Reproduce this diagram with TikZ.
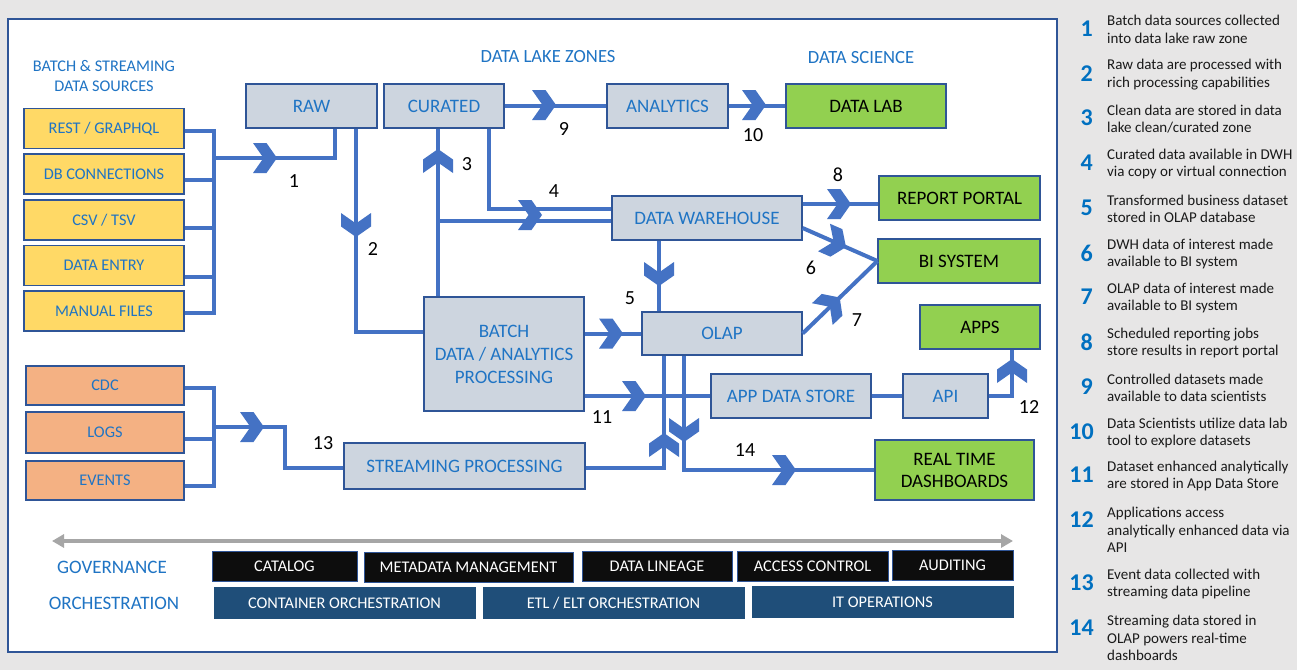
\documentclass[tikz,border=0pt]{standalone}
\usepackage{fontspec}
\setmainfont{Carlito}
\usetikzlibrary{arrows.meta}

\definecolor{pagegray}{HTML}{E7E6E6}
\definecolor{boxline}{HTML}{2F5597}
\definecolor{zonefill}{HTML}{CDD5DF}
\definecolor{flowblue}{HTML}{4472C4}
\definecolor{labelblue}{HTML}{1F74C4}
\definecolor{legendblue}{HTML}{0070C0}
\definecolor{srcyellow}{HTML}{FFD966}
\definecolor{srcorange}{HTML}{F4B183}
\definecolor{targetgreen}{HTML}{92D050}
\definecolor{govblack}{HTML}{0D0D0D}
\definecolor{orchblue}{HTML}{1F4E79}
\definecolor{spangray}{HTML}{A6A6A6}
\definecolor{legtextcol}{HTML}{1A1A1A}

\newcommand{\setfs}[2]{\fontsize{#1pt}{#2pt}\selectfont}

\tikzset{
  basebox/.style={draw=boxline, line width=1.2pt, inner sep=0pt, align=center},
  srcbox/.style={basebox, fill=srcyellow, text=labelblue, font=\setfs{16.3}{19},
                 minimum width=160pt, minimum height=40pt},
  evbox/.style={basebox, fill=srcorange, text=labelblue, font=\setfs{16.3}{19},
                minimum width=158pt, minimum height=39pt},
  zone/.style={basebox, fill=zonefill, text=labelblue, font=\setfs{19}{23}},
  target/.style={basebox, fill=targetgreen, text=black, font=\setfs{19}{22}},
  govbox/.style={draw=boxline, line width=1pt, fill=govblack, text=white, inner sep=0pt,
                 font=\setfs{16.3}{19}, minimum height=30pt},
  orchbox/.style={draw=orchblue, fill=orchblue, text=white, inner sep=0pt,
                  font=\setfs{16.3}{19}, minimum height=31pt, minimum width=261pt},
  hdr/.style={text=labelblue, inner sep=0pt, align=center},
  flow/.style={draw=flowblue, line width=4pt},
  steplabel/.style={text=black, inner sep=0pt, font=\setfs{20}{24}},
  legnum/.style={text=legendblue, inner sep=0pt, anchor=east, font=\bfseries\setfs{24}{28}},
  legtext/.style={text=legtextcol, inner sep=0pt, anchor=west, align=left, font=\setfs{15}{17.5}},
  chev/.pic={\fill[flowblue] (-12,15) -- (1.5,15) -- (12,0) -- (1.5,-15) -- (-12,-15) -- (-1.5,0) -- cycle;}
}

\begin{document}
\begin{tikzpicture}[x=1pt,y=-1pt]
\useasboundingbox (0,0) rectangle (1297,670);
\fill[pagegray] (0,0) rectangle (1297,670);
\draw[boxline, line width=1.2pt, fill=white] (8,19) rectangle (1057,652);

% headings
\node[hdr, font=\setfs{16.3}{20}] (srchdr) at (104,76) {BATCH \& STREAMING\\DATA SOURCES};
\node[hdr, font=\setfs{18.6}{21}] (lakehdr) at (548,57) {DATA LAKE ZONES};
\node[hdr, font=\setfs{18.6}{21}] (scihdr) at (861,58) {DATA SCIENCE};

% batch sources
\node[srcbox] (rest) at (104,128.5) {REST / GRAPHQL};
\node[srcbox] (dbconn) at (104,174) {DB CONNECTIONS};
\node[srcbox] (csv) at (104,220) {CSV / TSV};
\node[srcbox] (entry) at (104,265.5) {DATA ENTRY};
\node[srcbox] (manual) at (104,311) {MANUAL FILES};

% streaming sources
\node[evbox] (cdc) at (105,385.5) {CDC};
\node[evbox, minimum height=41pt] (logs) at (105,432.5) {LOGS};
\node[evbox] (events) at (105,480.5) {EVENTS};

% data lake zones and processing
\node[zone, minimum width=131pt, minimum height=44pt] (raw) at (311.5,106) {RAW};
\node[zone, minimum width=120pt, minimum height=44pt] (curated) at (444,106) {CURATED};
\node[zone, minimum width=121pt, minimum height=44pt] (analytics) at (667.5,106) {ANALYTICS};
\node[zone, minimum width=190pt, minimum height=44pt] (dwh) at (707,218) {DATA WAREHOUSE};
\node[zone, minimum width=160pt, minimum height=43pt] (olap) at (722,333.5) {OLAP};
\node[zone, minimum width=160pt, minimum height=114pt] (batch) at (504,354) {BATCH\\DATA / ANALYTICS\\PROCESSING};
\node[zone, minimum width=160pt, minimum height=44pt] (appstore) at (791,396) {APP DATA STORE};
\node[zone, minimum width=85pt, minimum height=44pt] (api) at (945.5,396) {API};
\node[zone, minimum width=241pt, minimum height=46pt] (stream) at (464.5,466) {STREAMING PROCESSING};

% consumers
\node[target, minimum width=160pt, minimum height=44pt] (datalab) at (866,106) {DATA LAB};
\node[target, minimum width=161pt, minimum height=44pt] (report) at (959.5,198) {REPORT PORTAL};
\node[target, minimum width=162pt, minimum height=44pt] (bi) at (959,261) {BI SYSTEM};
\node[target, minimum width=120pt, minimum height=44pt] (apps) at (980,327) {APPS};
\node[target, minimum width=159pt, minimum height=60pt] (dash) at (954.5,470) {REAL TIME\\DASHBOARDS};

% bus and bend points
\coordinate (sbusBot) at (214,313);
\coordinate (sbusOut) at (214,158);
\coordinate (ebusBot) at (214,486);
\coordinate (ebusOut) at (214,427);
\coordinate (ebusBend) at (285,468);
\coordinate (cleanTap) at (438,221);

% batch source bus -> RAW (1)
\draw[flow] ([yshift=-2.5pt]rest.east) -| (sbusBot) -- ([yshift=-2pt]manual.east);
\draw[flow] ([yshift=-6pt]dbconn.east) -- ++(30,0);
\draw[flow] ([yshift=-8pt]csv.east) -- ++(30,0);
\draw[flow] ([yshift=-11.5pt]entry.east) -- ++(30,0);
\draw[flow] (sbusOut) -| (raw.south -| 335,0);

% RAW -> batch processing (2)
\draw[flow] (raw.south -| 356,0) |- (batch.west |- 0,332);
% batch processing -> CURATED (3) and -> DWH
\draw[flow] (batch.north -| 438,0) -- (curated.south -| 438,0);
\draw[flow] (cleanTap) -- (dwh.west |- cleanTap);
% CURATED -> DWH (4)
\draw[flow] (curated.south -| 489,0) |- (dwh.west |- 0,209);
% CURATED -> ANALYTICS -> DATA LAB (9, 10)
\draw[flow] (curated.east) -- (analytics.west);
\draw[flow] (analytics.east) -- (datalab.west);
% DWH -> REPORT PORTAL (8), DWH -> BI (6), OLAP -> BI (7)
\draw[flow] (dwh.east |- 0,204) -- (report.west |- 0,204);
\draw[flow] (dwh.east |- 0,228) -- (bi.west);
\draw[flow] (olap.east) -- (bi.west);
% DWH -> OLAP (5)
\draw[flow] (dwh.south -| 659,0) -- (olap.north -| 659,0);
% batch processing -> OLAP, -> APP DATA STORE (11)
\draw[flow] (batch.east |- olap.west) -- (olap.west);
\draw[flow] (batch.east |- appstore.west) -- (appstore.west);
% APP DATA STORE -> API -> APPS (12)
\draw[flow] (appstore.east) -- (api.west);
\draw[flow] (api.east) -| (apps.south -| 1012,0);
% streaming sources -> STREAMING PROCESSING (13)
\draw[flow] ([yshift=-2.5pt]cdc.east) -| (ebusBot) -- ([yshift=-5.5pt]events.east);
\draw[flow] ([yshift=-6.5pt]logs.east) -- ++(30,0);
\draw[flow] (ebusOut) -| (ebusBend) -- (stream.west |- ebusBend);
% STREAMING -> OLAP, OLAP -> REAL TIME DASHBOARDS (14)
\draw[flow] (stream.east |- 0,468) -| (olap.south -| 664,0);
\draw[flow] (olap.south -| 684,0) |- (dash.west);

% direction chevrons
\pic at (265,158) {chev};
\pic[rotate=-90] at (356,225) {chev};
\pic[rotate=90] at (438,161) {chev};
\pic at (530,215) {chev};
\pic at (544,105) {chev};
\pic at (754,105) {chev};
\pic at (839,204) {chev};
\pic[rotate=-23.5] at (835,242.3) {chev};
\pic[rotate=43.6] at (831,305.8) {chev};
\pic[rotate=-90] at (659,274) {chev};
\pic at (611,333.5) {chev};
\pic at (634,396) {chev};
\pic[rotate=90] at (1012,371) {chev};
\pic at (252,427) {chev};
\pic[rotate=90] at (664,445) {chev};
\pic[rotate=-90] at (684,430) {chev};
\pic at (784,470) {chev};

% step numbers
\node[steplabel] (s1) at (294,181) {1};
\node[steplabel] (s2) at (373,249) {2};
\node[steplabel] (s3) at (467,164) {3};
\node[steplabel] (s4) at (554,191) {4};
\node[steplabel] (s5) at (630,298) {5};
\node[steplabel] (s6) at (811,268) {6};
\node[steplabel] (s7) at (857,320) {7};
\node[steplabel] (s8) at (838,175) {8};
\node[steplabel] (s9) at (564,129) {9};
\node[steplabel] (s10) at (753,135) {10};
\node[steplabel] (s11) at (602,417) {11};
\node[steplabel] (s12) at (1029,407) {12};
\node[steplabel] (s13) at (323,443) {13};
\node[steplabel] (s14) at (745,450) {14};

% governance and orchestration
\coordinate (spanL) at (52,541);
\coordinate (spanR) at (1013,541);
\draw[spangray, line width=3.5pt, {Triangle[length=12pt,width=13pt]}-{Triangle[length=12pt,width=13pt]}] (spanL) -- (spanR);
\node[hdr, font=\setfs{19}{22}] (govhdr) at (112,567) {GOVERNANCE};
\node[hdr, font=\setfs{19}{22}] (orchhdr) at (114,603) {ORCHESTRATION};

\node[govbox, minimum width=145pt] (catalog) at (284.5,566.5) {CATALOG};
\node[govbox, minimum width=209pt] (metadata) at (468.5,567.5) {METADATA MANAGEMENT};
\node[govbox, minimum width=150pt] (lineage) at (657,566.5) {DATA LINEAGE};
\node[govbox, minimum width=151pt] (access) at (812.5,566.5) {ACCESS CONTROL};
\node[govbox, minimum width=121pt] (auditing) at (952.5,565.5) {AUDITING};

\node[orchbox] (container) at (344.5,603) {CONTAINER ORCHESTRATION};
\node[orchbox] (etl) at (613.5,603) {ETL / ELT ORCHESTRATION};
\node[orchbox] (itops) at (882.5,602) {IT OPERATIONS};

% legend
\node[legnum] (n1) at (1093,28.5) {1};
\node[legtext] (t1) at (1107,29.5) {Batch data sources collected\\into data lake raw zone};
\node[legnum] (n2) at (1093,73.5) {2};
\node[legtext] (t2) at (1107,74.5) {Raw data are processed with\\rich processing capabilities};
\node[legnum] (n3) at (1093,118) {3};
\node[legtext] (t3) at (1107,119) {Clean data are stored in data\\lake clean/curated zone};
\node[legnum] (n4) at (1093,163) {4};
\node[legtext] (t4) at (1107,164) {Curated data available in DWH\\via copy or virtual connection};
\node[legnum] (n5) at (1093,208) {5};
\node[legtext] (t5) at (1107,209) {Transformed business dataset\\stored in OLAP database};
\node[legnum] (n6) at (1093,253) {6};
\node[legtext] (t6) at (1107,254) {DWH data of interest made\\available to BI system};
\node[legnum] (n7) at (1093,297) {7};
\node[legtext] (t7) at (1107,298) {OLAP data of interest made\\available to BI system};
\node[legnum] (n8) at (1093,342) {8};
\node[legtext] (t8) at (1107,343) {Scheduled reporting jobs\\store results in report portal};
\node[legnum] (n9) at (1093,387) {9};
\node[legtext] (t9) at (1107,388) {Controlled datasets made\\available to data scientists};
\node[legnum] (n10) at (1094,432) {10};
\node[legtext] (t10) at (1107,433) {Data Scientists utilize data lab\\tool to explore datasets};
\node[legnum] (n11) at (1094,475) {11};
\node[legtext] (t11) at (1107,476) {Dataset enhanced analytically\\are stored in App Data Store};
\node[legnum] (n12) at (1094,520) {12};
\node[legtext] (t12) at (1107,530) {Applications access\\analytically enhanced data via\\API};
\node[legnum] (n13) at (1094,583) {13};
\node[legtext] (t13) at (1107,584) {Event data collected with\\streaming data pipeline};
\node[legnum] (n14) at (1094,628) {14};
\node[legtext] (t14) at (1107,638) {Streaming data stored in\\OLAP powers real-time\\dashboards};
\end{tikzpicture}
\end{document}
